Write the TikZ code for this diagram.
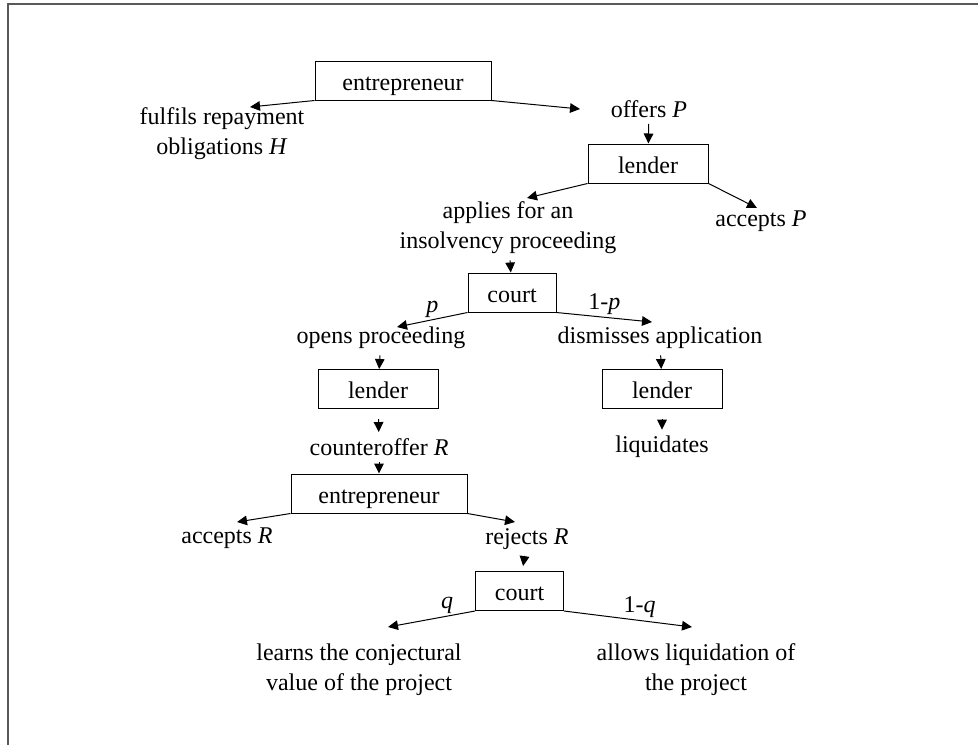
\documentclass[tikz,border=0pt]{standalone}
\usepackage{fontspec}
\setmainfont{Liberation Serif}
\usetikzlibrary{arrows.meta}

\begin{document}
\begin{tikzpicture}[x=0.5pt,y=-0.5pt,auto,>={Triangle[length=5pt,width=4.8pt]},font=\fontsize{12pt}{15pt}\selectfont]
                    \useasboundingbox (0,0) rectangle (978,745);
                    \draw[black!65,line width=0.6pt] (978,4) -- (8,4) -- (8,745);
                    \begin{scope}[every node/.style={rectangle,draw=black,line width=0.5pt,text height=14.7pt,text depth=4.8pt,inner sep=0pt}]
                        \node[minimum width=88pt] (E1) at (403,80.5) {entrepreneur};
                        \node[minimum width=60pt] (L1) at (648,163.5) {lender};
                        \node[minimum width=44pt] (C1) at (512,292.5) {court};
                        \node[minimum width=60pt] (L2) at (378,389) {lender};
                        \node[minimum width=60pt] (L3) at (662,389) {lender};
                        \node[minimum width=88pt] (E2) at (379,493.5) {entrepreneur};
                        \node[minimum width=44pt] (C2) at (519.5,591) {court};
                    \end{scope}
                    \begin{scope}[every node/.style={align=center,inner sep=3pt}]
                        \node (fulfil) at (222,134) {fulfils repayment\\obligations \textit{H}};
                        \node (offer) at (649,109) {offers \textit{P}};
                        \node (apply) at (508,228) {applies for an\\insolvency proceeding};
                        \node (acceptP) at (761,221) {accepts \textit{P}};
                        \node (open) at (381,338) {opens proceeding};
                        \node (dismiss) at (660,338) {dismisses application};
                        \node (counter) at (379,447) {counteroffer \textit{R}};
                        \node (liquid) at (662,447) {liquidates};
                        \node (acceptR) at (227,538) {accepts \textit{R}};
                        \node (reject) at (527,539) {rejects \textit{R}};
                        \node (learn) at (359,670) {learns the conjectural\\value of the project};
                        \node (allow) at (696,670) {allows liquidation of\\the project};
                    \end{scope}
                    \coordinate (fulfil-in) at (250,107);
                    \coordinate (offer-in) at (580,109);
                    \coordinate (apply-in) at (527,198);
                    \coordinate (acceptP-in) at (757,208);
                    \coordinate (open-in) at (397,327);
                    \coordinate (dismiss-in) at (652,322);
                    \coordinate (acceptR-in) at (237,522);
                    \coordinate (reject-in) at (515,522);
                    \coordinate (learn-in) at (388,627);
                    \coordinate (allow-in) at (692,627);
                    \begin{scope}[every edge/.style={draw=black,line width=0.5pt,->},every node/.style={inner sep=1pt}]
                        \draw (E1.south west) edge (fulfil-in);
                        \draw (E1.south east) edge (offer-in);
                        \draw (offer) edge (L1);
                        \draw (L1.south west) edge (apply-in);
                        \draw (L1.south east) edge (acceptP-in);
                        \draw (apply) edge (C1);
                        \draw (C1.south west) edge node[above,pos=0.5] {\textit{p}} (open-in);
                        \draw (C1.south east) edge node[above,pos=0.5] {1-\textit{p}} (dismiss-in);
                        \draw (open) edge (L2);
                        \draw (dismiss) edge (L3);
                        \draw (L2) edge[shorten <=5pt] (counter);
                        \draw (L3) edge[shorten <=5pt] (liquid);
                        \draw (counter) edge (E2);
                        \draw (E2.south west) edge (acceptR-in);
                        \draw (E2.south east) edge (reject-in);
                        \draw (reject) edge[shorten >=2.5pt] (C2);
                        \draw (C2.south west) edge node[above,pos=0.32] {\textit{q}} (learn-in);
                        \draw (C2.south east) edge node[above,pos=0.59] {1-\textit{q}} (allow-in);
                    \end{scope}
                \end{tikzpicture}
\end{document}
